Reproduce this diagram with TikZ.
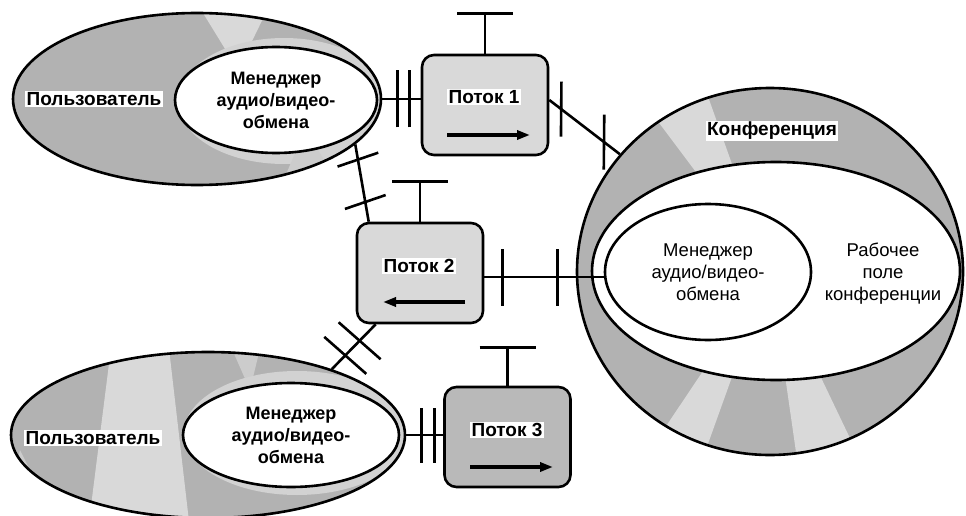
\documentclass[tikz,border=0pt]{standalone}
\usepackage{fontspec}
\setmainfont{Liberation Sans}
\usetikzlibrary{shapes.geometric,arrows.meta,decorations.markings}
\tikzset{
  lw/.style={line width=2.6pt},
  ell/.style={ellipse, draw, lw, inner sep=0pt},
  stream/.style={draw, lw, rounded corners=12pt, minimum width=126pt, minimum height=100pt, inner sep=0pt},
  lbl/.style={fill=white, inner sep=1.5pt, font=\fontsize{19}{22}\selectfont\bfseries},
  txtb/.style={align=center, font=\fontsize{18}{22}\selectfont\bfseries},
  txtr/.style={align=center, font=\fontsize{18.5}{22}\selectfont},
  link/.style={lw},
  flow/.style={line width=3.5pt, -{Triangle[length=13pt,width=9pt]}},
  light/.style={fill=gray!30},
  twoticks/.style n args={4}{postaction={decorate,decoration={markings,
      mark=at position #1 with {\draw[lw,rotate=#4] (0,-#3)--(0,#3);},
      mark=at position #2 with {\draw[lw,rotate=#4] (0,-#3)--(0,#3);}}}}
}
\begin{document}
\begin{tikzpicture}[x=1pt,y=-1pt]
\useasboundingbox (0,0) rectangle (966,516);

% ---------- User 1 ----------
\fill[gray!60] (197,99) ellipse [x radius=184, y radius=86];
\begin{scope}
  \clip (197,99) ellipse [x radius=184, y radius=86];
  \fill[gray!30] (195,0) -- (272,0) -- (238,70) -- cycle;
  \fill[gray!35] (284,101) ellipse [x radius=106, y radius=63];
  \fill[gray!40] (275,200) -- (350,200) -- (305,130) -- cycle;
\end{scope}
\node[ell, minimum width=368pt, minimum height=172pt] (u1) at (197,99) {};
\node[ell, fill=white, minimum width=202pt, minimum height=106pt, txtb] (u1m) at (276,100) {Менеджер\\аудио/видео-\\обмена};
\node[lbl] (u1l) at (94,99) {Пользователь};

% ---------- User 2 ----------
\fill[gray!60] (208,435) ellipse [x radius=197, y radius=83];
\begin{scope}
  \clip (208,435) ellipse [x radius=197, y radius=83];
  \fill[gray!30] (112,340) -- (168,340) -- (190,530) -- (88,530) -- cycle;
  \fill[gray!40] (20,450) -- (60,530) -- (0,530) -- cycle;
  \fill[gray!40] (228,340) -- (262,340) -- (250,390) -- cycle;
  \fill[gray!35] (297,433) ellipse [x radius=113, y radius=62];
\end{scope}
\node[ell, minimum width=394pt, minimum height=166pt] (u2) at (208,435) {};
\node[ell, fill=white, minimum width=216pt, minimum height=104pt, txtb] (u2m) at (291,435) {Менеджер\\аудио/видео-\\обмена};
\node[lbl] (u2l) at (93,438) {Пользователь};

% ---------- Conference ----------
\fill[gray!60] (770,271.5) ellipse [x radius=193, y radius=183.5];
\begin{scope}
  \clip (770,271.5) ellipse [x radius=193, y radius=183.5];
  \fill[gray!30] (770,271) -- (612,60) -- (695,60) -- cycle;
  \fill[gray!30] (770,271) -- (630,480) -- (695,480) -- cycle;
  \fill[gray!30] (770,271) -- (800,480) -- (870,480) -- cycle;
\end{scope}
\node[ell, minimum width=386pt, minimum height=367pt] (conf) at (770,271.5) {};
\node[ell, fill=white, minimum width=368pt, minimum height=218pt] (cws) at (776,271) {};
\node[ell, fill=white, minimum width=206pt, minimum height=136pt, txtr] (cmgr) at (708,272) {Менеджер\\аудио/видео-\\обмена};
\node[lbl] (confl) at (772,131) {Конференция};
\node[txtr] (cwst) at (883,274) {Рабочее\\поле\\конференции};

% ---------- Streams ----------
\node[stream, light] (s1) at (485,105) {};
\node[lbl] (s1l) at (484,97) {Поток 1};
\draw[flow] ([xshift=-38pt,yshift=-30pt]s1.center) -- ([xshift=45pt,yshift=-30pt]s1.center);
\draw[lw] (s1.north) -- ([yshift=40pt]s1.north) coordinate (s1t);
\draw[lw] ([xshift=-28pt]s1t) -- ([xshift=28pt]s1t);

\node[stream, light] (s2) at (420,273) {};
\node[lbl] (s2l) at (419,266) {Поток 2};
\draw[flow] ([xshift=45pt,yshift=-29pt]s2.center) -- ([xshift=-37pt,yshift=-29pt]s2.center);
\draw[lw] (s2.north) -- ([yshift=40pt]s2.north) coordinate (s2t);
\draw[lw] ([xshift=-28pt]s2t) -- ([xshift=28pt]s2t);

\node[stream, fill=gray!55] (s3) at (507.5,437) {};
\node[lbl] (s3l) at (507,430) {Поток 3};
\draw[flow] ([xshift=-37.5pt,yshift=-30pt]s3.center) -- ([xshift=45.5pt,yshift=-30pt]s3.center);
\draw[lw] (s3.north) -- ([yshift=38pt]s3.north) coordinate (s3t);
\draw[lw] ([xshift=-28pt]s3t) -- ([xshift=28pt]s3t);

% ---------- Connectors ----------
\draw[link, twoticks={15pt}{27pt}{28.5pt}{0}] (u1.east) -- (u1.east -| s1.west);
\draw[link, twoticks={15pt}{69pt}{27.5pt}{37}] ([yshift=5pt]s1.east) -- (conf.142);
\draw[link, twoticks={18pt}{73pt}{28.5pt}{0}] ([yshift=-4pt]s2.east) -- ([yshift=-4pt]s2.east -| cmgr.west);
\draw[link, twoticks={20pt}{63pt}{21.5pt}{9}] ([xshift=13pt]s2.north west) -- (u1.-16);
\draw[link, twoticks={23pt}{43.5pt}{28pt}{3}] ([xshift=20pt]s2.south west) -- (u2.28.6);
\draw[link, twoticks={15pt}{28pt}{27.5pt}{0}] (u2.east) -- (u2.east -| s3.west);
\end{tikzpicture}
\end{document}
